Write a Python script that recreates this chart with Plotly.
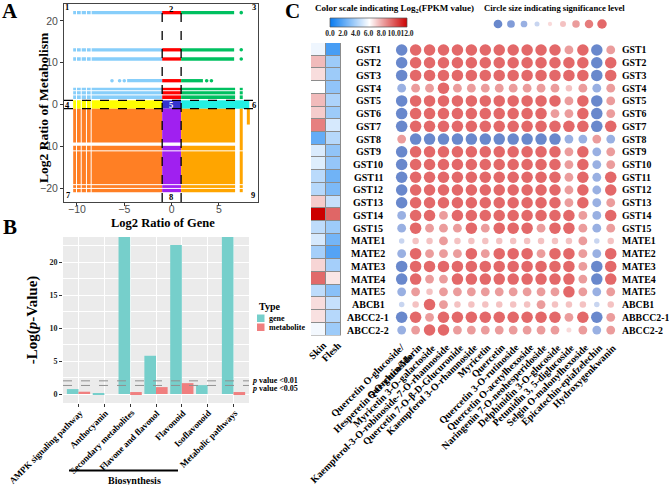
import plotly.graph_objects as go

W, H = 669, 485
def px(x): return x / W
def py(y): return 1 - y / H

SERIF = "Liberation Serif, Times New Roman, serif"
SANS = "Liberation Sans, Arial, sans-serif"

# ---------------- Panel A data (nine-quadrant plot) ----------------
gene_cut = 1.0
meta_cut = 1.0
gene_left_min = -10.4
band_y0 = [1.3, -1.0, -9.1, -21.0]
band_y1 = [4.0, 1.0, -1.0, -9.9]
band_right_max = [6.7, 8.2, 6.7, 6.7]
band_left_colors = ["#87CEFA", "#FFFF00", "#FF7F24", "#FF7F24"]
band_mid_colors = ["#FF0000", "#3535CF", "#A020F0", "#A020F0"]
band_right_colors = ["#00C060", "#22F0E4", "#FFA500", "#FFA500"]

strip_y = [22.0, 13.1, 10.9, 5.7]
strip_left_start = [-10.4, -10.4, -10.4, -4.7]
strip_right_end = [6.6, 6.6, 6.6, 3.3]
strip_extra_left = [[], [], [], [-6.3, -5.5, -5.0]]
strip_extra_right = [[7.35], [7.35], [7.35], [3.7, 4.2]]

outlier_col_x = [7.35, 7.35, 8.1]
outlier_col_y0 = [1.3, -21.0, -4.8]
outlier_col_y1 = [4.0, -1.0, -1.0]
outlier_col_colors = ["#00C060", "#FFA500", "#FFA500"]

gap_x = [-10.05, -9.55, -9.0, -8.5]
gap_y = [-11.1, -19.2, -20.1, 3.3, 2.3]

quadrant_ids = ["1", "2", "3", "4", "5", "6", "7", "8", "9"]

# ---------------- Panel B data ----------------
categories = ["AMPK signaling pathway", "Anthocyanin", "Secondary metabolites",
              "Flavone and flavonol", "Flavonoid", "Isoflavonoid", "Metabolic pathways"]
gene_vals = [0.75, 0.12, 26.0, 5.8, 22.6, 1.35, 26.0]
meta_vals = [0.35, None, 0.3, 1.05, 1.65, None, 0.3]
p_thresholds = [2.0, 1.3]
p_labels = ["<i>p</i> value &lt;0.01", "<i>p</i> value &lt;0.05"]

# ---------------- Panel C data ----------------
genes = ["GST1", "GST2", "GST3", "GST4", "GST5", "GST6", "GST7", "GST8", "GST9", "GST10",
         "GST11", "GST12", "GST13", "GST14", "GST15", "MATE1", "MATE2", "MATE3", "MATE4",
         "MATE5", "ABCB1", "ABCC2-1", "ABCC2-2"]
right_labels = ["GST1", "GST2", "GST3", "GST4", "GST5", "GST6", "GST7", "GST8", "GST9", "GST10",
                "GST11", "GST12", "GST13", "GST14", "GST15", "MATE1", "MATE2", "MATE3", "MATE4",
                "MATE5", "ABCB1", "ABBCC2-1", "ABCC2-2"]
tissues = ["Skin", "Flesh"]
skin_fpkm = [5.6, 7.6, 6.8, 6.0, 7.6, 7.2, 9.0, 2.2, 5.1, 5.2, 4.3, 4.2, 7.2, 12.0, 4.4,
             5.0, 3.8, 7.0, 9.5, 4.4, 6.8, 6.7, 5.7]
flesh_fpkm = [1.5, 3.6, 3.6, 3.3, 4.0, 3.6, 5.0, 4.2, 3.3, 3.4, 2.5, 2.8, 4.6, 9.6, 3.6,
              2.6, 1.8, 3.8, 6.6, 3.1, 4.6, 4.2, 3.6]
colorbar_ticks = [0, 2, 4, 6, 8, 10, 12]
compounds = ["Quercetin O-glucoside/<br>Hesperetin 5-O-glucoside", "Quercetin/Morin",
             "Myricetin 3-O-galactoside", "Kaempferol-3-O-robinoside-7-O-rhamnoside",
             "Quercetin 7-O-β-D-Glucuronide", "Kaempferol 3-O-rhamnoside", "Myricetin",
             "Quercetin", "Quercetin 3-O-rutinoside", "Quercetin O-acetylhexoside",
             "Naringenin 7-O-neohesperidoside", "Delphinidin 3-O-glucoside",
             "Petunidin 3, 5-diglucoside", "Selgin O-malonylhexoside",
             "Epicatechin-epiafzelechin", "Hydroxygenkwanin"]
# significance level per gene (rows) x compound (cols): sign = correlation direction
sig_levels = [
    [-4, 4, 4, 4, 4, 4, 4, 4, 4, 4, 4, 4, 2, 4, -4, 2],
    [-4, 4, 4, 4, 4, 4, 4, 4, 4, 4, 4, 4, 4, 4, -4, 4],
    [-4, 4, 4, 4, 4, 4, 4, 4, 4, 4, 4, 4, 4, 4, -4, 4],
    [-2, 2, 2, 4, 2, 2, 2, 2, 2, 2, 2, 2, 1, 2, -2, 2],
    [-4, 4, 4, 4, 4, 4, 4, 4, 4, 4, 4, 4, 2, 4, -4, 2],
    [-4, 4, 4, 4, 4, 4, 4, 4, 4, 4, 4, 2, 2, 4, -4, 2],
    [-4, 4, 4, 4, 4, 4, 4, 4, 4, 4, 4, 4, 4, 4, -4, 4],
    [2, -4, -4, -4, -4, -4, -4, -4, -4, -4, -4, -4, -2, -2, 2, -2],
    [-4, 4, 4, 4, 4, 4, 4, 4, 4, 4, 4, 4, 2, 4, -2, 2],
    [-4, 4, 4, 4, 4, 4, 4, 4, 4, 4, 4, 4, 2, 4, -2, 2],
    [-4, 4, 4, 4, 4, 4, 4, 4, 4, 4, 4, 4, 2, 4, -2, 4],
    [-4, 4, 4, 4, 4, 4, 4, 4, 4, 4, 4, 4, 2, 4, -2, 4],
    [-4, 4, 4, 4, 4, 4, 4, 4, 4, 4, 4, 4, 2, 4, -2, 2],
    [-2, 4, 4, 2, 4, 4, 4, 4, 4, 4, 4, 4, 4, 2, -2, 4],
    [-2, 4, 2, 2, 2, 4, 2, 4, 4, 4, 2, 4, 4, 2, -2, 2],
    [-1, 1, 1, 2, 1, 1, 1, 1, 1, 1, 1, 1, 1, 2, -1, 1],
    [-2, 4, 2, 2, 2, 4, 2, 4, 4, 4, 2, 4, 4, 2, -2, 4],
    [-4, 4, 4, 4, 4, 4, 4, 4, 4, 4, 4, 4, 4, 2, -4, 4],
    [-4, 4, 2, 2, 4, 4, 4, 4, 4, 4, 4, 4, 4, 2, -4, 4],
    [-2, 2, 1, 2, 2, 2, 2, 2, 2, 2, 2, 2, 4, 2, -2, 2],
    [-1, 1, 4, 2, 1, 1, 1, 1, 1, 1, 2, 1, 1, 1, -1, 1],
    [-4, 4, 2, 4, 4, 4, 4, 4, 4, 4, 4, 4, 2, 4, -4, 2],
    [-2, 2, 4, 4, 2, 2, 2, 2, 2, 2, 2, 2, 0, 2, -2, 2],
]
legend_levels = [-4, -3, -2, -1, 0, 1, 2, 3, 4]

# ---------------- styles ----------------
level_color = {4: "#D7282A", 3: "#DC4444", 2: "#E37272", 1: "#F0A8A8", 0: "#F6CACA",
               -1: "#B1C3EA", -2: "#6E8ED6", -3: "#4C72C8", -4: "#2A55B6"}
level_size = {4: 11.5, 3: 10.5, 2: 8.8, 1: 6.5, 0: 5.0, -1: 5.5, -2: 8.8, -3: 10.5, -4: 11.5}
legend_size = {4: 9.5, 3: 8.5, 2: 7.5, 1: 6.0, 0: 4.3, -1: 5.0, -2: 6.7, -3: 7.7, -4: 8.7}
TEAL = "#76CFCB"
SALMON = "#F07F7F"
FPKM_SCALE = [[0, "#0A7CF0"], [0.5, "#FFFFFF"], [1, "#CC0000"]]

fig = go.Figure()

def rect(xa, ya, x0, x1, y0, y1, color):
    fig.add_trace(go.Scatter(x=[x0, x1, x1, x0, x0], y=[y0, y0, y1, y1, y0], mode="lines",
                             fill="toself", fillcolor=color, line=dict(width=0, color=color),
                             hoverinfo="skip", showlegend=False, xaxis=xa, yaxis=ya))

def seg(xa, ya, xs, ys, color, width):
    fig.add_trace(go.Scatter(x=xs, y=ys, mode="lines", line=dict(color=color, width=width),
                             hoverinfo="skip", showlegend=False, xaxis=xa, yaxis=ya))

# ---- Panel A ----
for i in range(len(band_y0)):
    rect("x", "y", gene_left_min, -gene_cut, band_y0[i], band_y1[i], band_left_colors[i])
    rect("x", "y", -gene_cut, gene_cut, band_y0[i], band_y1[i], band_mid_colors[i])
    rect("x", "y", gene_cut, band_right_max[i], band_y0[i], band_y1[i], band_right_colors[i])

for i, yv in enumerate(strip_y):
    seg("x", "y", [strip_left_start[i], -gene_cut], [yv, yv], "#87CEFA", 3.3)
    seg("x", "y", [-gene_cut, gene_cut], [yv, yv], "#FF0000", 3.3)
    seg("x", "y", [gene_cut, strip_right_end[i]], [yv, yv], "#00C060", 3.3)
    if strip_extra_left[i]:
        fig.add_trace(go.Scatter(x=strip_extra_left[i], y=[yv] * len(strip_extra_left[i]),
                                 mode="markers", marker=dict(color="#87CEFA", size=3.6),
                                 hoverinfo="skip", showlegend=False, xaxis="x", yaxis="y"))
    fig.add_trace(go.Scatter(x=strip_extra_right[i], y=[yv] * len(strip_extra_right[i]),
                             mode="markers", marker=dict(color="#00C060", size=3.6),
                             hoverinfo="skip", showlegend=False, xaxis="x", yaxis="y"))

for i, xv in enumerate(outlier_col_x):
    seg("x", "y", [xv, xv], [outlier_col_y0[i], outlier_col_y1[i]], outlier_col_colors[i], 3.0)

for gx in gap_x:
    seg("x", "y", [gx, gx], [-21.3, 22.6], "white", 1.0)
for gy in gap_y:
    seg("x", "y", [-10.6, 7.6], [gy, gy], "white", 1.0)

# ---- Panel B ----
fig.add_trace(go.Bar(x=categories, y=gene_vals, name="gene", marker=dict(color=TEAL, line=dict(width=0)),
                     xaxis="x2", yaxis="y2", showlegend=False))
fig.add_trace(go.Bar(x=categories, y=meta_vals, name="metabolite", marker=dict(color=SALMON, line=dict(width=0)),
                     xaxis="x2", yaxis="y2", showlegend=False))

# ---- Panel C heatmap ----
fig.add_trace(go.Heatmap(
    z=[[s, f] for s, f in zip(skin_fpkm, flesh_fpkm)], x=[0, 1], y=list(range(len(genes))),
    zmin=0, zmax=12, xgap=1, ygap=1, colorscale=FPKM_SCALE, showscale=False,
    xaxis="x3", yaxis="y3", hoverinfo="skip"))

# colour key drawn as a gradient strip
fig.add_trace(go.Heatmap(
    z=[colorbar_ticks], x=colorbar_ticks, y=[0], zmin=0, zmax=12, zsmooth="best",
    colorscale=FPKM_SCALE, showscale=False, xaxis="x6", yaxis="y6", hoverinfo="skip"))

# ---- Panel C dot plot ----
dx, dy, dc, ds = [], [], [], []
for r, row in enumerate(sig_levels):
    for c, lv in enumerate(row):
        dx.append(c); dy.append(r); dc.append(level_color[lv]); ds.append(level_size[lv])
fig.add_trace(go.Scatter(x=dx, y=dy, mode="markers", marker=dict(color=dc, size=ds, line=dict(width=0)),
                         hoverinfo="skip", showlegend=False, xaxis="x4", yaxis="y4"))

fig.add_trace(go.Scatter(x=list(range(len(legend_levels))), y=[0] * len(legend_levels), mode="markers",
                         marker=dict(color=[level_color[l] for l in legend_levels],
                                     size=[legend_size[l] for l in legend_levels], line=dict(width=0)),
                         hoverinfo="skip", showlegend=False, xaxis="x5", yaxis="y5"))

shapes = []
# Panel A dashed threshold lines
for v in (-gene_cut, gene_cut):
    shapes.append(dict(type="line", xref="x", yref="y domain", x0=v, x1=v, y0=0, y1=1,
                       line=dict(color="black", width=1.3, dash="dash"), layer="above"))
for v in (-meta_cut, meta_cut):
    shapes.append(dict(type="line", xref="x domain", yref="y", x0=0, x1=1, y0=v, y1=v,
                       line=dict(color="black", width=1.3, dash="dash"), layer="above"))
# Panel B background and thresholds
shapes.append(dict(type="rect", xref="x2 domain", yref="y2 domain", x0=0, x1=1, y0=0, y1=1,
                   fillcolor="#EBEBEB", line=dict(width=0), layer="below"))
for v in p_thresholds:
    shapes.append(dict(type="line", xref="x2 domain", yref="y2", x0=0, x1=1, y0=v, y1=v,
                       line=dict(color="#909090", width=1, dash="dash"), layer="above"))
# Biosynthesis bracket
shapes.append(dict(type="line", xref="paper", yref="paper", x0=px(69), x1=px(178), y0=py(470.5), y1=py(470.5),
                   line=dict(color="black", width=2)))
# Panel B legend keys
shapes.append(dict(type="rect", xref="paper", yref="paper", x0=px(257), x1=px(264.5), y0=py(322), y1=py(314.5),
                   fillcolor=TEAL, line=dict(width=0)))
shapes.append(dict(type="rect", xref="paper", yref="paper", x0=px(257), x1=px(264.5), y0=py(331), y1=py(323.5),
                   fillcolor=SALMON, line=dict(width=0)))
# Heatmap cell borders
shapes.append(dict(type="rect", xref="x3 domain", yref="y3 domain", x0=0, x1=1, y0=0, y1=1,
                   fillcolor="#8C8C8C", line=dict(width=0), layer="below"))
# colour key outline
shapes.append(dict(type="rect", xref="x6 domain", yref="y6 domain", x0=0, x1=1, y0=0, y1=1,
                   line=dict(color="#555", width=0.7), layer="above"))

ann = []
def text(x, y, s, size, xanchor="center", yanchor="middle", color="black", bold=True, family=SERIF,
         textangle=0, xref="paper", yref="paper", xshift=0, align="center"):
    ann.append(dict(x=x, y=y, xref=xref, yref=yref, text=s, showarrow=False, xanchor=xanchor,
                    yanchor=yanchor, textangle=textangle, xshift=xshift, align=align,
                    font=dict(family=family, size=size, color=color, weight="bold" if bold else "normal")))

# panel letters
text(px(10), py(11), "A", 21)
text(px(10), py(227), "B", 21)
text(px(292), py(11), "C", 21)

# Panel A titles and quadrant numbers
text(px(43), py(108), "Log2 Ratio of Metabolism", 13.5, textangle=-90)
text(px(163), py(223.5), "Log2 Ratio of Gene", 12.5)
qpos = [(67, 7), (171, 9), (254, 7), (67.5, 105), (171, 105), (254, 105), (68, 195), (171, 197), (253, 195)]
for q, (qx, qy) in zip(quadrant_ids, qpos):
    text(px(qx), py(qy), q, 8.5, color="white" if q == "5" else "black")

# Panel B texts
for i, c in enumerate(categories):
    text(i, py(405), c, 9, xanchor="right", yanchor="top", textangle=-45, xref="x2", xshift=9)
for lab, ly in zip(p_labels, [380, 388]):
    text(px(250), py(ly), lab, 8, xanchor="left")
text(px(257), py(306), "Type", 10, xanchor="left")
text(px(267), py(318.5), "gene", 8, xanchor="left")
text(px(267), py(327.5), "metabolite", 8, xanchor="left")
text(px(134), py(480), "Biosynthesis", 10)

# Panel C titles and labels
text(px(313), py(8), "Color scale indicating Log<sub>2</sub>(FPKM value)", 9, xanchor="left")
text(px(482), py(8), "Circle size indicating significance level", 8.6, xanchor="left")
for i, g in enumerate(genes):
    text(px(368), i, g, 10, yref="y4")
for i, g in enumerate(right_labels):
    text(px(620), i, g, 9.8, xanchor="left", yref="y4")
for i, c in enumerate(compounds):
    text(i, py(339), c, 10, xanchor="right", yanchor="top", textangle=-45, xref="x4",
         xshift=11 + 6 * c.count("<br>"), align="right")
for i, t in enumerate(tissues):
    text(i, py(337), t, 10, xanchor="right", yanchor="top", textangle=-45, xref="x3", xshift=13)

fig.update_layout(
    width=W, height=H, margin=dict(l=0, r=0, t=0, b=0, autoexpand=False),
    paper_bgcolor="white", plot_bgcolor="white",
    barmode="group", bargap=0.1, bargroupgap=0,
    shapes=shapes, annotations=ann, showlegend=False,
    xaxis=dict(domain=[px(64), px(258)], range=[-11.37, 9.12], anchor="y",
               tickvals=[-10, -5, 0, 5], ticks="outside", ticklen=3, tickcolor="#333",
               showline=True, mirror=True, linecolor="#444", linewidth=1,
               showgrid=False, zeroline=False, ticklabelstandoff=-6,
               tickfont=dict(family=SANS, size=10.5, color="#4D4D4D")),
    yaxis=dict(domain=[py(202), py(4)], range=[-23.35, 24.07], anchor="x",
               tickvals=[-20, -10, 0, 10, 20], ticks="outside", ticklen=3, tickcolor="#333",
               showline=True, mirror=True, linecolor="#444", linewidth=1,
               showgrid=False, zeroline=False,
               tickfont=dict(family=SANS, size=10.5, color="#4D4D4D")),
    xaxis2=dict(domain=[px(63), px(249)], range=[-0.6, 6.6], anchor="y2", type="category",
                ticks="outside", ticklen=3, tickcolor="#333", showticklabels=False,
                showgrid=True, gridcolor="white", gridwidth=1, zeroline=False, showline=False),
    yaxis2=dict(domain=[py(403), py(237)], range=[-1.36, 23.8], anchor="x2",
                tickvals=[0, 5, 10, 15, 20], ticks="outside", ticklen=3, tickcolor="#333",
                showgrid=True, gridcolor="white", gridwidth=1, zeroline=False, showline=False,
                minor=dict(dtick=2.5, tick0=0, showgrid=True, gridcolor="white", gridwidth=0.5),
                tickfont=dict(family=SERIF, size=8, color="#222", weight="bold"),
                title=dict(text="-Log(<i>p</i>-Value)", standoff=8,
                           font=dict(family=SERIF, size=15, color="black", weight="bold"))),
    xaxis3=dict(domain=[px(311), px(341)], range=[-0.5, 1.5], anchor="y3", visible=False),
    yaxis3=dict(domain=[py(335.5), py(43)], range=[22.5, -0.5], anchor="x3", visible=False),
    xaxis4=dict(domain=[px(394.7), px(617.7)], range=[-0.5, 15.5], anchor="y4", visible=False),
    yaxis4=dict(domain=[py(336.4), py(43.6)], range=[22.5, -0.5], anchor="x4", visible=False),
    xaxis5=dict(domain=[px(491.5), px(608.5)], range=[-0.5, 8.5], anchor="y5", visible=False),
    yaxis5=dict(domain=[py(32), py(16)], range=[-1, 1], anchor="x5", visible=False),
    xaxis6=dict(domain=[px(330), px(407)], range=[0, 12], anchor="y6",
                tickvals=colorbar_ticks, ticktext=[f"{v:.1f}" for v in colorbar_ticks],
                ticks="", showgrid=False, zeroline=False, showline=False, tickangle=0,
                tickfont=dict(family=SERIF, size=7.5, color="#222", weight="bold")),
    yaxis6=dict(domain=[py(27), py(18)], range=[-0.5, 0.5], anchor="x6", visible=False),
)

fig.write_html("out.html", config={"displayModeBar": False},
               post_script="document.body.style.margin='0px';document.body.style.overflow='hidden';")
